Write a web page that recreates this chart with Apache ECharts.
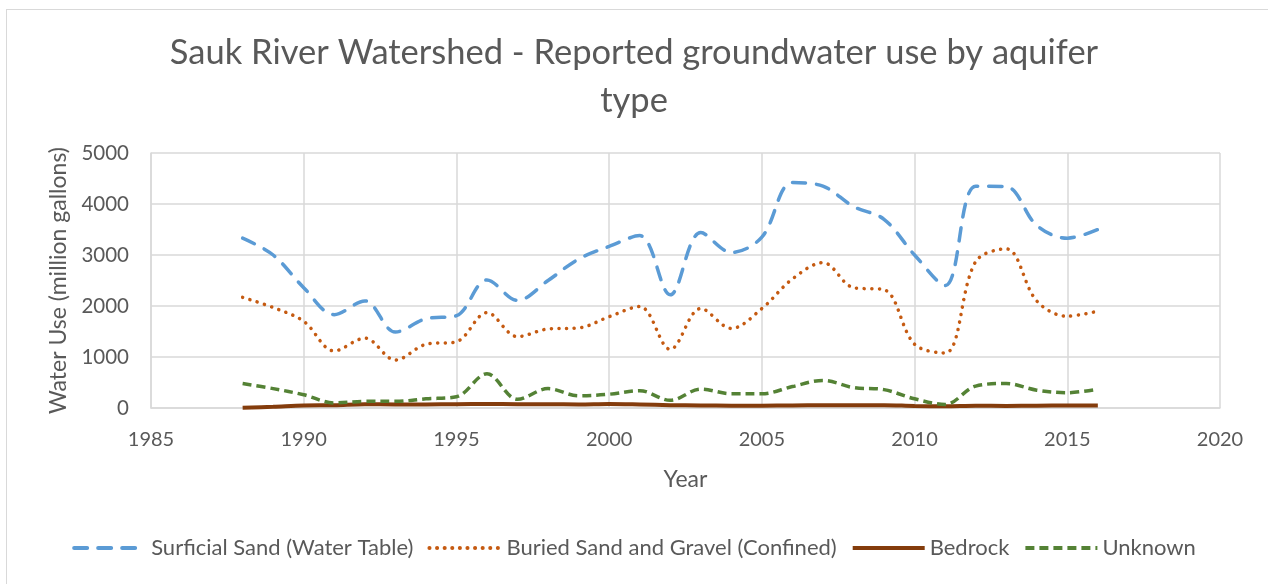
<!DOCTYPE html>
<html>
<head>
<meta charset="utf-8">
<script src="https://cdn.jsdelivr.net/npm/echarts@6/dist/echarts.min.js"></script>
<style>
  html, body { margin: 0; padding: 0; background: #fff; overflow: hidden; }
  #frame { position: absolute; left: 6px; top: 9px; width: 1300px; height: 620px; border: 1px solid #d9d9d9; }
  #chart { position: absolute; left: -7px; top: -10px; width: 1268px; height: 584px; }
</style>
</head>
<body>
<div id="frame"><div id="chart"></div></div>
<script>
  const years = [1988, 1989, 1990, 1991, 1992, 1993, 1994, 1995, 1996, 1997, 1998, 1999, 2000, 2001, 2002,
                 2003, 2004, 2005, 2006, 2007, 2008, 2009, 2010, 2011, 2012, 2013, 2014, 2015, 2016]
  const surficial = [3330, 3000, 2360, 1830, 2100, 1490, 1750, 1810, 2510, 2110, 2500, 2920, 3170, 3380, 2220,
                     3440, 3050, 3350, 4420, 4350, 3950, 3700, 3000, 2400, 4350, 4340, 3580, 3330, 3500]
  const buried = [2170, 1970, 1700, 1120, 1370, 940, 1250, 1300, 1870, 1400, 1550, 1570, 1790, 1990, 1150,
                  1950, 1560, 1950, 2530, 2850, 2360, 2320, 1250, 1080, 2870, 3120, 2100, 1800, 1900]
  const bedrock = [5, 25, 50, 55, 75, 70, 70, 75, 80, 75, 75, 70, 80, 70, 55,
                   50, 45, 45, 50, 55, 55, 55, 40, 35, 45, 40, 45, 50, 50]
  const unknown = [480, 380, 260, 100, 130, 130, 180, 220, 670, 170, 380, 240, 270, 340, 150,
                   370, 280, 280, 420, 540, 400, 360, 180, 70, 430, 480, 350, 300, 370]
  const names = ['Surficial Sand (Water Table)', 'Buried Sand and Gravel (Confined)', 'Bedrock', 'Unknown']

  const pair = (vals) => years.map((y, i) => [y, vals[i]])
  const font = 'Lato, "Open Sans", sans-serif'
  const grey = '#595959'

  const mk = (name, vals, color, width, type, cap) => ({
    name: name,
    type: 'line',
    data: pair(vals),
    smooth: 0.35,
    showSymbol: false,
    symbol: 'none',
    lineStyle: { color: color, width: width, type: type, cap: cap },
    itemStyle: { color: color }
  })

  const myChart = echarts.init(document.getElementById('chart'))
  myChart.setOption({
    animation: false,
    textStyle: { fontFamily: font },
    title: {
      text: 'Sauk River Watershed - Reported groundwater use by aquifer\ntype',
      left: 'center',
      top: 24,
      textStyle: { fontFamily: font, fontSize: 34.5, fontWeight: 'normal', color: grey, lineHeight: 48 }
    },
    grid: { left: 151, right: 48, top: 153, bottom: 176 },
    xAxis: {
      type: 'value',
      min: 1985,
      max: 2020,
      interval: 5,
      name: 'Year',
      nameLocation: 'middle',
      nameGap: 60,
      nameTextStyle: { fontFamily: font, fontSize: 23, color: grey },
      axisLine: { show: true, lineStyle: { color: '#d9d9d9', width: 1.5 } },
      axisTick: { show: false },
      axisLabel: { fontSize: 20, color: grey, margin: 22, formatter: (v) => String(v) },
      splitLine: { show: true, lineStyle: { color: '#d9d9d9', width: 1.5 } }
    },
    yAxis: {
      type: 'value',
      min: 0,
      max: 5000,
      interval: 1000,
      name: 'Water Use (million gallons)',
      nameLocation: 'middle',
      nameGap: 78,
      nameTextStyle: { fontFamily: font, fontSize: 23, color: grey },
      axisLine: { show: true, lineStyle: { color: '#d9d9d9', width: 1.5 } },
      axisTick: { show: false },
      axisLabel: { fontSize: 20.5, color: grey, margin: 22, formatter: (v) => String(v) },
      splitLine: { show: true, lineStyle: { color: '#d9d9d9', width: 1.5 } }
    },
    legend: {
      data: names,
      bottom: 20,
      left: 'center',
      itemWidth: 72,
      itemHeight: 12,
      itemGap: 14,
      itemStyle: { opacity: 0 },
      lineStyle: { width: 4, type: 'inherit' },
      textStyle: { fontFamily: font, fontSize: 22, color: grey }
    },
    series: [
      mk(names[0], surficial, '#5b9bd5', 3.5, [13, 11], 'round'),
      mk(names[1], buried, '#c55a11', 3.5, [0.1, 7.5], 'round'),
      mk(names[2], bedrock, '#843c0c', 4, 'solid', 'butt'),
      mk(names[3], unknown, '#548235', 3.5, [9, 5], 'butt')
    ]
  })

  window.addEventListener('resize', () => {
    myChart.resize()
  })
</script>
</body>
</html>
